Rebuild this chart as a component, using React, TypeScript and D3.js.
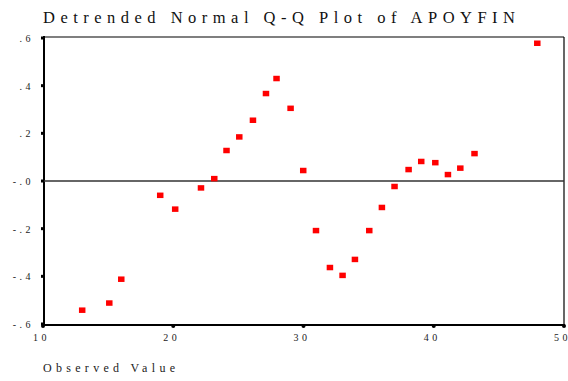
import React from "react";
import * as d3 from "d3";

const observed = [12.99, 15.07, 15.99, 18.98, 20.13, 22.11, 23.13, 24.07, 25.05, 26.1, 27.1, 27.91, 28.99, 29.96, 30.94, 32.01, 32.98, 33.93, 35.03, 36.0, 36.97, 38.05, 39.02, 40.1, 41.07, 42.02, 43.11, 47.93];
const deviation = [-0.541, -0.511, -0.411, -0.059, -0.117, -0.028, 0.011, 0.129, 0.186, 0.256, 0.368, 0.431, 0.306, 0.045, -0.207, -0.362, -0.395, -0.328, -0.207, -0.11, -0.022, 0.049, 0.083, 0.078, 0.028, 0.055, 0.116, 0.579];
const xTicks = [10, 20, 30, 40, 50];
const xTickLabels = ["10", "20", "30", "40", "50"];
const yTicks = [0.6, 0.4, 0.2, 0, -0.2, -0.4, -0.6];
const yTickLabels = [".6", ".4", ".2", "-.0", "-.2", "-.4", "-.6"];
const title = "Detrended Normal Q-Q Plot of APOYFIN";
const xTitle = "Observed Value";

export default function App() {
  const W = 568, H = 381;
  const left = 44, right = 564, top = 37, bottom = 325;
  const x = d3.scaleLinear().domain([10, 50]).range([43, 564]);
  const y = d3.scaleLinear().domain([-0.6, 0.6]).range([324, 38]);
  const font = "'Liberation Serif', 'Times New Roman', serif";
  return (
    <svg width={W} height={H} style={{ position: "absolute", left: 0, top: 0, background: "#fff" }}>
      <rect x={0} y={0} width={W} height={H} fill="#fff" />
      <text x={43} y={23} fontFamily={font} fontSize={16.5} fill="#111" textLength={472} lengthAdjust="spacing">{title}</text>
      {/* frame */}
      <line x1={left} x2={right} y1={top} y2={top} stroke="#000" strokeWidth={1.2} />
      <line x1={right} x2={right} y1={top} y2={bottom} stroke="#000" strokeWidth={1.2} />
      <line x1={left} x2={left} y1={top - 1} y2={bottom + 1} stroke="#000" strokeWidth={2} />
      <line x1={left - 1} x2={right + 1} y1={bottom} y2={bottom} stroke="#000" strokeWidth={2} />
      {/* zero reference line */}
      <line x1={left} x2={right} y1={y(0)} y2={y(0)} stroke="#333" strokeWidth={1.6} />
      {/* y ticks */}
      {yTicks.map((t, i) => (
        <g key={"y" + i}>
          <rect x={41} y={y(t) - 1.5} width={3} height={3} fill="#000" />
          <text x={34} y={y(t) + 4} fontFamily={font} fontSize={10} fill="#222" textAnchor="end" letterSpacing={3.5}>{yTickLabels[i]}</text>
        </g>
      ))}
      {/* x ticks */}
      {xTicks.map((t, i) => (
        <g key={"x" + i}>
          <circle cx={x(t)} cy={bottom + 1} r={2} fill="#000" />
          <text x={x(t) - 10} y={341} fontFamily={font} fontSize={10} fill="#222" textLength={13.5} lengthAdjust="spacing">{xTickLabels[i]}</text>
        </g>
      ))}
      <text x={43} y={372} fontFamily={font} fontSize={12} fill="#222" textLength={132} lengthAdjust="spacing">{xTitle}</text>
      {/* points */}
      {observed.map((v, i) => (
        <rect key={"p" + i} x={x(v) - 3} y={y(deviation[i]) - 2.5} width={6.5} height={5.5} fill="#ff0000" />
      ))}
    </svg>
  );
}
